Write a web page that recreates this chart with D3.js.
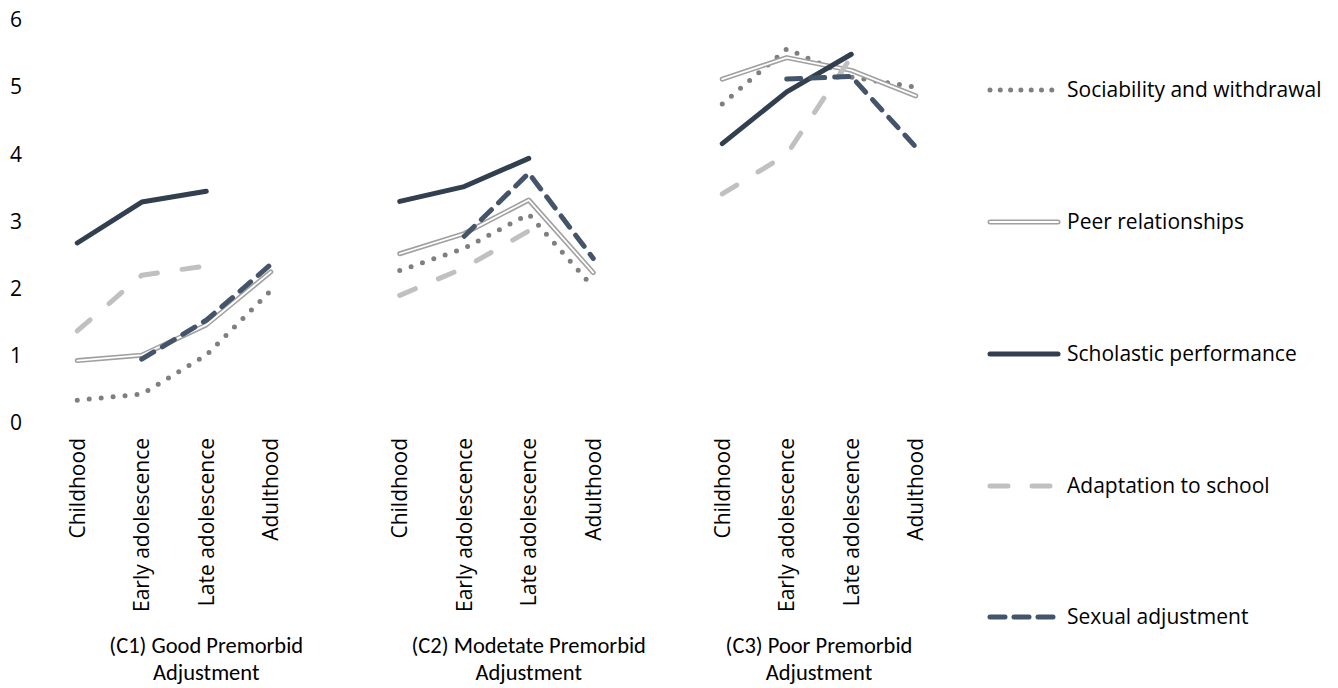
<!DOCTYPE html>
<html>
<head>
<meta charset="utf-8">
<script src="https://cdnjs.cloudflare.com/ajax/libs/d3/7.8.5/d3.min.js"></script>
<style>
  html, body { margin: 0; padding: 0; background: #fff; }
  svg { display: block; }
</style>
</head>
<body>
<script>
// ---------- data ----------
const stages = ["Childhood", "Early adolescence", "Late adolescence", "Adulthood"];
const groupLabels = [
  ["(C1) Good Premorbid", "Adjustment"],
  ["(C2) Modetate Premorbid", "Adjustment"],
  ["(C3) Poor Premorbid", "Adjustment"]
];
const seriesNames = ["Sociability and withdrawal", "Peer relationships", "Scholastic performance", "Adaptation to school", "Sexual adjustment"];
// values per group: [Childhood, Early adolescence, Late adolescence, Adulthood]
const sociability = [[0.34, 0.43, 1.01, 1.97], [2.27, 2.60, 3.11, 2.02], [4.75, 5.57, 5.15, 5.00]];
const peer        = [[0.93, 1.01, 1.46, 2.25], [2.52, 2.82, 3.32, 2.24], [5.12, 5.44, 5.25, 4.87]];
const scholastic  = [[2.68, 3.29, 3.45, null], [3.30, 3.52, 3.94, null], [4.16, 4.93, 5.49, null]];
const adaptation  = [[1.37, 2.20, 2.34, null], [1.90, 2.31, 2.86, null], [3.41, 4.00, 5.45, null]];
const sexual      = [[null, 0.95, 1.53, 2.36], [null, 2.78, 3.72, 2.45], [null, 5.12, 5.16, 4.11]];
const yTicks = [0, 1, 2, 3, 4, 5, 6];

// ---------- layout ----------
const W = 1338, H = 688;
const svg = d3.select("body").append("svg").attr("width", W).attr("height", H);

// category slots: each group has its 4 stages followed by one blank slot (except last)
const slots = [];
groupLabels.forEach((g, gi) => {
  stages.forEach((s, si) => slots.push({ key: gi + "|" + si, label: s }));
  if (gi < groupLabels.length - 1) slots.push({ key: gi + "|blank", label: "" });
});
const x = d3.scaleBand().domain(slots.map(d => d.key)).range([45, 948]).padding(0);
const xc = k => x(k) + x.bandwidth() / 2;
const y = d3.scaleLinear().domain([0, 6]).range([423, 20]);

const FONT = "'Open Sans', 'DejaVu Sans', sans-serif";
const FS = 21;

// y axis
const yAxis = svg.append("g").attr("transform", "translate(25,0)")
  .call(d3.axisLeft(y).tickValues(yTicks).tickSize(0).tickPadding(3).tickFormat(d3.format("d")));
yAxis.select(".domain").remove();
yAxis.selectAll("text").attr("font-family", FONT).attr("font-size", FS).attr("fill", "#000");

// x axis (stage labels, rotated)
const labelMap = new Map(slots.map(d => [d.key, d.label]));
const xAxis = svg.append("g").attr("transform", "translate(0,430)")
  .call(d3.axisBottom(x).tickSize(0).tickFormat(k => labelMap.get(k)));
xAxis.select(".domain").remove();
xAxis.selectAll("text")
  .attr("font-family", FONT).attr("font-size", FS).attr("fill", "#000")
  .attr("transform", "rotate(-90)")
  .attr("x", -8).attr("y", 0).attr("dy", "0.36em")
  .attr("text-anchor", "end");

// group labels
groupLabels.forEach((g, gi) => {
  const keys = slots.filter(s => s.key.startsWith(gi + "|")).map(s => s.key);
  const cx = (x(keys[0]) + x(keys[keys.length - 1]) + x.bandwidth()) / 2;
  [0, 1].forEach(li => {
    svg.append("text").attr("x", cx).attr("y", 653 + li * 26.5).attr("text-anchor", "middle")
      .attr("font-family", "Carlito, Lato, 'Open Sans', sans-serif").attr("font-size", 22.5)
      .attr("fill", "#000").text(g[li]);
  });
});

// ---------- series ----------
const styles = [
  { data: sociability, color: "#7F7F7F", width: 5, dash: "0,12", legendDash: "0,10.3" },
  { data: peer, color: "#A0A0A0", width: 5, dash: null, double: true },
  { data: scholastic, color: "#323F4F", width: 5, dash: null },
  { data: adaptation, color: "#C0C0C0", width: 5, dash: "17,25", legendDash: "18,24" },
  { data: sexual, color: "#44546A", width: 5, dash: "14,10", legendDash: "15,9" }
];

const line = d3.line()
  .defined(d => d.v != null)
  .x(d => xc(d.key))
  .y(d => y(d.v));

styles.forEach(st => {
  st.data.forEach((vals, gi) => {
    const pts = vals.map((v, si) => ({ key: gi + "|" + si, v }));
    const p = svg.append("path").datum(pts).attr("d", line)
      .attr("fill", "none").attr("stroke", st.color).attr("stroke-width", st.width)
      .attr("stroke-linecap", "round").attr("stroke-linejoin", "round");
    if (st.dash) p.attr("stroke-dasharray", st.dash);
    if (st.double) {
      svg.append("path").datum(pts).attr("d", line)
        .attr("fill", "none").attr("stroke", "#fff").attr("stroke-width", 1.8)
        .attr("stroke-linecap", "round").attr("stroke-linejoin", "round");
    }
  });
});

// ---------- legend ----------
const legendY = [90, 222, 354, 486, 617];
seriesNames.forEach((name, i) => {
  const st = styles[i];
  const ly = legendY[i];
  const l = svg.append("line").attr("x1", 990).attr("x2", st.dash ? 1054 : 1058).attr("y1", ly).attr("y2", ly)
    .attr("stroke", st.color).attr("stroke-width", st.width).attr("stroke-linecap", "round");
  if (st.dash) l.attr("stroke-dasharray", st.legendDash);
  if (st.double) {
    svg.append("line").attr("x1", 990).attr("x2", 1058).attr("y1", ly).attr("y2", ly)
      .attr("stroke", "#fff").attr("stroke-width", 1.8).attr("stroke-linecap", "round");
  }
  svg.append("text").attr("x", 1067).attr("y", ly).attr("dy", "0.35em")
    .attr("font-family", FONT).attr("font-size", FS).attr("fill", "#000").text(name);
});
</script>
</body>
</html>
